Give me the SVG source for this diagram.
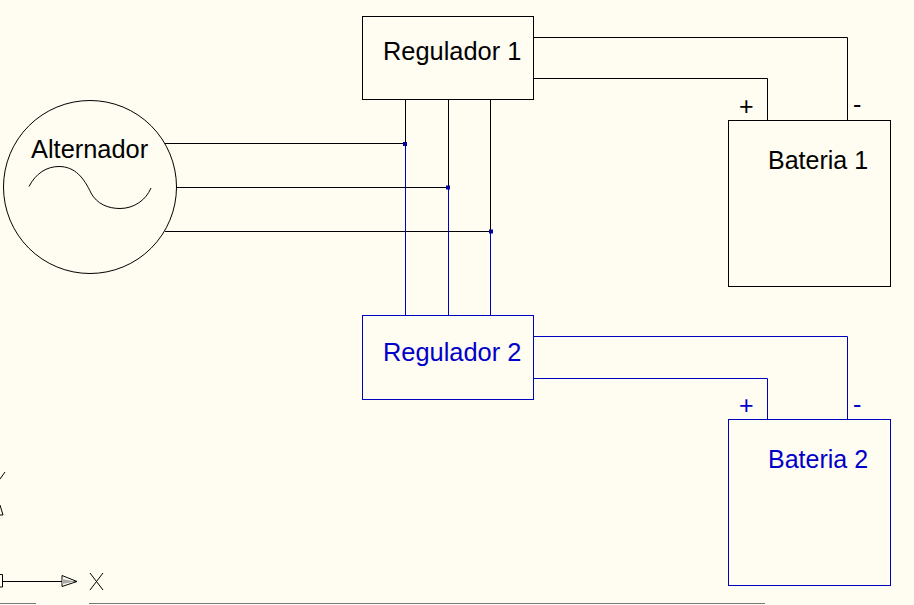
<svg xmlns="http://www.w3.org/2000/svg" width="914" height="605" viewBox="0 0 914 605">
<style>
.k{fill:none;stroke:#000;stroke-width:1}
.b{fill:none;stroke:#0000c0;stroke-width:1}
text{font-family:"Liberation Sans",Arial,sans-serif;font-size:25.4px}
.bat{font-size:25px}
.tk{fill:#000}
.tb{fill:#0000c8}
.d{fill:#0000a0}
</style>
<rect width="914" height="605" fill="#fffcf2"/>
<g id="connectors">
<path class="k" d="M405.500 99.500V144M448.500 99.500V187M490.500 99.500V231"/>
<path class="k" d="M165 143.500H405M177 187.500H448M165 231.500H491"/>
<path class="k" d="M533.500 37.500H847.500V120.500M533.500 78.500H767.500V120.500"/>
<line class="b" x1="405.500" y1="146" x2="405.500" y2="315"/>
<line class="b" x1="448.500" y1="189" x2="448.500" y2="315"/>
<line class="b" x1="490.500" y1="233" x2="490.500" y2="315"/>
<rect class="d" x="403" y="142" width="4" height="4"/>
<rect class="d" x="446" y="185.500" width="4" height="4"/>
<rect class="d" x="489" y="229.500" width="4" height="4"/>
<path class="b" d="M533.500 336.500H847.500V419.500"/>
<path class="b" d="M533.500 378.500H767.500V419.500"/>
</g>
<g id="alternador">
<circle class="k" cx="90" cy="187" r="86.500"/>
<path class="k" d="M29 186.500C36 173 47 166.500 59 166.500C75 166.500 84 178 91 193C97 204 108 208.500 120 208.500C134 208.500 146 200 151 188"/>
<text class="tk" x="31" y="158">Alternador</text>
</g>
<g id="regulador1">
<rect class="k" x="362.500" y="16.500" width="171" height="83"/>
<text class="tk" x="383" y="60">Regulador 1</text>
</g>
<g id="regulador2">
<rect class="b" x="362.500" y="315.500" width="171" height="84"/>
<text class="tb" x="383" y="360.500">Regulador 2</text>
</g>
<g id="bateria1">
<rect class="k" x="728.500" y="120.500" width="162" height="166"/>
<text class="tk bat" x="768" y="168.500">Bateria 1</text>
<text class="tk bat" x="739" y="115">+</text>
<text class="tk bat" x="853" y="113">-</text>
</g>
<g id="bateria2">
<rect class="b" x="728.500" y="419.500" width="162" height="166"/>
<text class="tb bat" x="768" y="467.500">Bateria 2</text>
<text class="tb bat" x="739" y="414">+</text>
<text class="tb bat" x="853" y="413">-</text>
</g>
<path class="k" d="M0 479L5 472M0 505L3 515H0"/>
<path class="k" d="M0 574.500H2.500V587H0M2.500 581.500H77M62 575.500L77 581.500L62 586.500Z"/>
<path d="M62 579L76 581.500L62 584Z" fill="#aaa"/>
<path class="k" d="M90 573L103 590M103 573L90 590"/>
<path d="M0 603.500H36M89 603.500H765" stroke="#777" stroke-width="1"/>
</svg>
